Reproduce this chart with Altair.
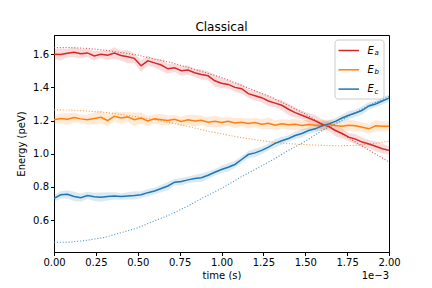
import altair as alt
import pandas as pd

# ---------------- data (time in seconds) ----------------
n_solid = 51
t_solid = [i * 0.04e-3 for i in range(n_solid)]

Ea = [1.600, 1.598, 1.606, 1.612, 1.603, 1.608, 1.590, 1.600, 1.594, 1.607,
      1.592, 1.585, 1.575, 1.530, 1.560, 1.548, 1.535, 1.512, 1.518, 1.500,
      1.505, 1.488, 1.478, 1.470, 1.440, 1.425, 1.418, 1.400, 1.392, 1.362,
      1.350, 1.338, 1.318, 1.305, 1.292, 1.268, 1.248, 1.232, 1.215, 1.198,
      1.178, 1.165, 1.140, 1.122, 1.100, 1.088, 1.070, 1.058, 1.045, 1.030,
      1.020]
Eb = [1.205, 1.212, 1.208, 1.218, 1.210, 1.205, 1.212, 1.220, 1.200, 1.225,
      1.215, 1.222, 1.205, 1.215, 1.198, 1.210, 1.205, 1.200, 1.208, 1.195,
      1.205, 1.198, 1.202, 1.190, 1.195, 1.188, 1.195, 1.185, 1.190, 1.182,
      1.188, 1.178, 1.183, 1.172, 1.180, 1.175, 1.178, 1.170, 1.176, 1.172,
      1.168, 1.176, 1.170, 1.165, 1.172, 1.168, 1.160, 1.150, 1.168, 1.165,
      1.165]
Ec = [0.730, 0.752, 0.755, 0.742, 0.735, 0.748, 0.740, 0.738, 0.742, 0.745,
      0.742, 0.745, 0.748, 0.752, 0.765, 0.775, 0.790, 0.805, 0.828, 0.832,
      0.842, 0.850, 0.855, 0.870, 0.888, 0.905, 0.918, 0.935, 0.965, 0.995,
      1.005, 1.020, 1.040, 1.062, 1.078, 1.092, 1.110, 1.122, 1.140, 1.150,
      1.168, 1.180, 1.195, 1.215, 1.232, 1.245, 1.262, 1.288, 1.300, 1.318,
      1.335]

# spread (half width of shaded band)
Ea_sd = [0.030, 0.035, 0.025, 0.030, 0.028, 0.025, 0.030, 0.022, 0.028, 0.035,
         0.030, 0.040, 0.030, 0.035, 0.030, 0.028, 0.035, 0.030, 0.025, 0.030,
         0.028, 0.025, 0.030, 0.028, 0.035, 0.030, 0.025, 0.028, 0.030, 0.025,
         0.030, 0.028, 0.032, 0.025, 0.030, 0.035, 0.030, 0.025, 0.030, 0.035,
         0.030, 0.028, 0.035, 0.030, 0.025, 0.030, 0.028, 0.025, 0.030, 0.028,
         0.025]
Eb_sd = [0.025, 0.030, 0.035, 0.030, 0.025, 0.030, 0.035, 0.040, 0.035, 0.030,
         0.035, 0.030, 0.040, 0.035, 0.030, 0.028, 0.035, 0.030, 0.025, 0.028,
         0.030, 0.035, 0.028, 0.030, 0.035, 0.030, 0.028, 0.030, 0.025, 0.030,
         0.028, 0.030, 0.035, 0.030, 0.028, 0.030, 0.035, 0.030, 0.028, 0.030,
         0.035, 0.030, 0.028, 0.030, 0.035, 0.030, 0.028, 0.030, 0.035, 0.030,
         0.028]
Ec_sd = [0.020, 0.022, 0.025, 0.028, 0.025, 0.022, 0.025, 0.028, 0.025, 0.022,
         0.020, 0.022, 0.025, 0.020, 0.022, 0.020, 0.022, 0.025, 0.020, 0.022,
         0.020, 0.022, 0.025, 0.022, 0.020, 0.022, 0.025, 0.022, 0.020, 0.022,
         0.025, 0.022, 0.020, 0.025, 0.022, 0.020, 0.022, 0.025, 0.020, 0.022,
         0.025, 0.022, 0.020, 0.022, 0.025, 0.022, 0.025, 0.022, 0.020, 0.022,
         0.020]

n_model = 21
t_model = [i * 0.1e-3 for i in range(n_model)]
Ea_model = [1.640, 1.640, 1.635, 1.625, 1.610, 1.595, 1.570, 1.550, 1.520, 1.490,
            1.460, 1.420, 1.380, 1.340, 1.290, 1.240, 1.180, 1.130, 1.070, 1.010,
            0.950]
Eb_model = [1.265, 1.263, 1.257, 1.250, 1.237, 1.222, 1.205, 1.185, 1.165, 1.140,
            1.120, 1.100, 1.085, 1.070, 1.060, 1.055, 1.050, 1.048, 1.050, 1.060,
            1.075]
Ec_model = [0.465, 0.467, 0.478, 0.495, 0.523, 0.553, 0.595, 0.635, 0.685, 0.740,
            0.790, 0.850, 0.905, 0.960, 1.020, 1.075, 1.140, 1.190, 1.250, 1.300,
            1.345]

series = ["Ea", "Eb", "Ec"]
colors = ["#d62728", "#ff7f0e", "#1f77b4"]
x_ticks = [0, 0.00025, 0.0005, 0.00075, 0.001, 0.00125, 0.0015, 0.00175, 0.002]
y_ticks = [0.6, 0.8, 1.0, 1.2, 1.4, 1.6]

# ---------------- tables ----------------
rows = []
for name, vals, sds in zip(series, [Ea, Eb, Ec], [Ea_sd, Eb_sd, Ec_sd]):
    for t, v, s in zip(t_solid, vals, sds):
        rows.append({"t": t, "E": v, "lo": v - s, "hi": v + s, "s": name})
solid = pd.DataFrame(rows)

mrows = []
for name, vals in zip(series, [Ea_model, Eb_model, Ec_model]):
    for t, v in zip(t_model, vals):
        mrows.append({"t": t, "E": v, "s": name})
model = pd.DataFrame(mrows)

W, H = 335, 217
FONT = "DejaVu Sans"

xscale = alt.Scale(domain=[0, 0.002], nice=False, zero=False)
yscale = alt.Scale(domain=[0.407, 1.716], nice=False, zero=False)
cscale = alt.Scale(domain=series, range=colors)

xaxis = alt.Axis(values=x_ticks, labelExpr="format(datum.value*1000, '.2f')",
                 title="time (s)", grid=False, labelFlush=False)
yaxis = alt.Axis(values=y_ticks, format=".1f", title="Energy (peV)", grid=False,
                 labelFlush=False)

band = alt.Chart(solid).mark_area(opacity=0.16).encode(
    x=alt.X("t:Q", scale=xscale, axis=xaxis),
    y=alt.Y("lo:Q", scale=yscale, axis=yaxis),
    y2="hi:Q",
    color=alt.Color("s:N", scale=cscale, legend=None),
    detail="s:N",
)

lines = alt.Chart(solid).mark_line(strokeWidth=1.5).encode(
    x="t:Q", y="E:Q",
    color=alt.Color("s:N", scale=cscale, legend=None),
    detail="s:N",
)

dotted = alt.Chart(model).mark_line(strokeWidth=1.1, strokeDash=[1.1, 1.8], opacity=0.75).encode(
    x="t:Q", y="E:Q",
    color=alt.Color("s:N", scale=cscale, legend=None),
    detail="s:N",
)

one = pd.DataFrame({"k": [0]})

offset_txt = alt.Chart(one).mark_text(text="1e\u22123", align="right", baseline="middle",
                                      font=FONT, fontSize=10, color="black").encode(
    x=alt.value(W), y=alt.value(H + 24))

# custom legend (matplotlib style)
legend_layers = [
    alt.Chart(one).mark_rect(fill="white", fillOpacity=0.8, stroke="#cccccc",
                             strokeWidth=1, cornerRadius=3).encode(
        x=alt.value(281), x2=alt.value(330), y=alt.value(5), y2=alt.value(64))
]
subs = ["a", "b", "c"]
for i, (col, sub) in enumerate(zip(colors, subs)):
    yy = 15.5 + i * 19.3
    legend_layers.append(
        alt.Chart(one).mark_rule(color=col, strokeWidth=1.5).encode(
            x=alt.value(284.5), x2=alt.value(305), y=alt.value(yy)))
    legend_layers.append(
        alt.Chart(one).mark_text(text="E", align="left", baseline="middle", font=FONT,
                                 fontSize=10, fontStyle="italic", color="black").encode(
            x=alt.value(313.5), y=alt.value(yy)))
    legend_layers.append(
        alt.Chart(one).mark_text(text=sub, align="left", baseline="middle", font=FONT,
                                 fontSize=7, fontStyle="italic", color="black").encode(
            x=alt.value(320.5), y=alt.value(yy + 2.5)))

chart = alt.layer(band, dotted, lines, offset_txt, *legend_layers).properties(
    width=W, height=H,
    title=alt.TitleParams("Classical", font=FONT, fontSize=12, fontWeight="normal",
                          color="black", offset=1),
    autosize=alt.AutoSizeParams(type="none"),
    padding={"left": 46, "top": 27, "right": 35, "bottom": 28},
).configure_view(stroke="black", strokeWidth=1).configure_axis(
    domainColor="black", tickColor="black", tickSize=3.5, labelFont=FONT,
    labelFontSize=10, labelColor="black", titleFont=FONT, titleFontSize=10,
    titleFontWeight="normal", titleColor="black", labelPadding=2,
).configure_axisX(titlePadding=3).configure_axisY(titlePadding=6)

chart.save("out.html", embed_options={"renderer": "svg", "actions": False})
